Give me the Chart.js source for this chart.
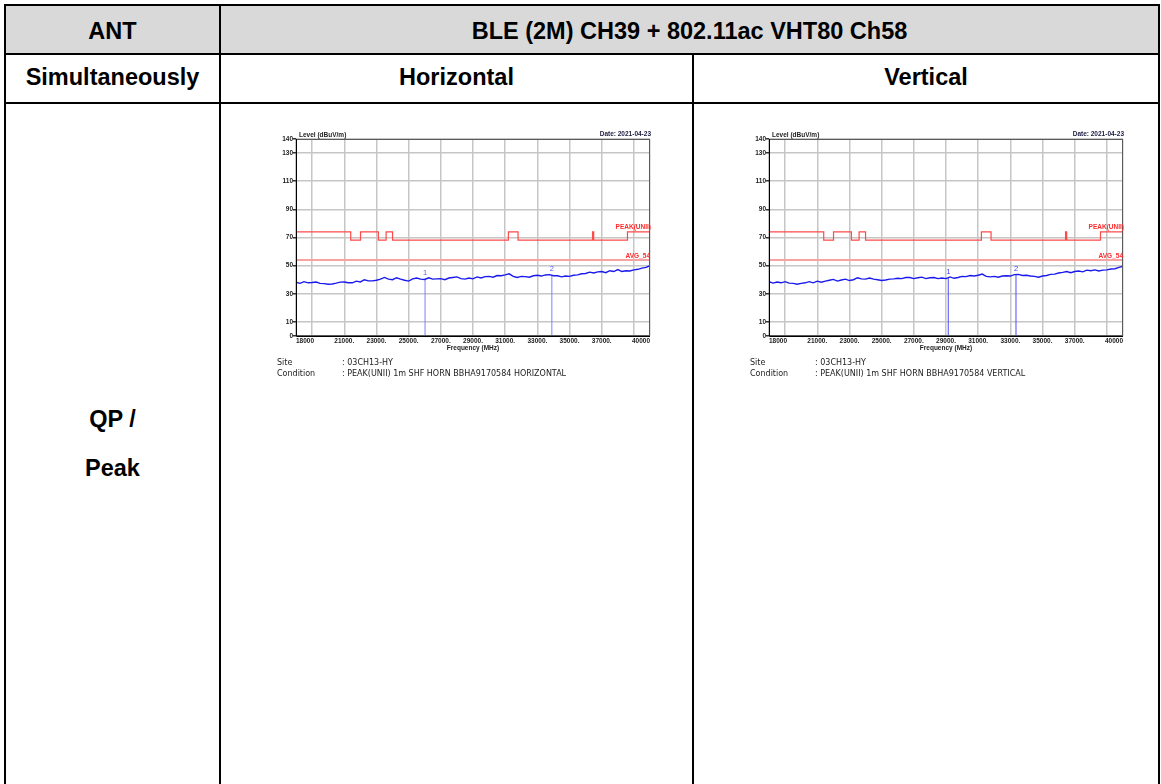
<!DOCTYPE html>
<html>
<head>
<meta charset="utf-8">
<script src="https://cdn.jsdelivr.net/npm/chart.js@4/dist/chart.umd.min.js"></script>
<style>
  html, body { margin:0; padding:0; background:#fff; }
  body { width:1161px; height:784px; overflow:hidden; position:relative; font-family:"Liberation Sans", Arial, sans-serif; }
  .ln { position:absolute; background:#000; }
  .hd { position:absolute; font-weight:bold; font-size:23.5px; line-height:23px; color:#000; text-align:center; white-space:nowrap; }
  .chart-box { position:absolute; width:400px; height:238px; }
  .info { position:absolute; font-family:"DejaVu Sans", Tahoma, sans-serif; font-size:8px; line-height:11px; color:#222; white-space:nowrap; }
  .info span { display:inline-block; width:65px; }
</style>
</head>
<body>
  <!-- table grid -->
  <div style="position:absolute;left:6px;top:6px;width:1152px;height:47px;background:#d9d9d9"></div>
  <div class="ln" style="left:4px;top:4px;width:1156px;height:2px"></div>
  <div class="ln" style="left:4px;top:53px;width:1156px;height:2px"></div>
  <div class="ln" style="left:4px;top:102px;width:1156px;height:2px"></div>
  <div class="ln" style="left:4px;top:4px;width:2px;height:790px"></div>
  <div class="ln" style="left:219px;top:4px;width:2px;height:790px"></div>
  <div class="ln" style="left:692px;top:53px;width:2px;height:740px"></div>
  <div class="ln" style="left:1158px;top:4px;width:2px;height:790px"></div>

  <div class="hd" style="left:6px;width:213px;top:20px">ANT</div>
  <div class="hd" style="left:221px;width:937px;top:20px">BLE (2M) CH39 + 802.11ac VHT80 Ch58</div>
  <div class="hd" style="left:6px;width:213px;top:66px">Simultaneously</div>
  <div class="hd" style="left:221px;width:471px;top:66px">Horizontal</div>
  <div class="hd" style="left:694px;width:464px;top:66px">Vertical</div>
  <div class="hd" style="left:6px;width:213px;top:408px">QP /</div>
  <div class="hd" style="left:6px;width:213px;top:457px">Peak</div>

  <div class="chart-box" style="left:262px;top:122px"><canvas id="chartH"></canvas></div>
  <div class="chart-box" style="left:735px;top:122px"><canvas id="chartV"></canvas></div>

  <div class="info" style="left:277px;top:357px">
    <div><span>Site</span>: 03CH13-HY</div>
    <div><span>Condition</span>: PEAK(UNII) 1m SHF HORN BBHA9170584 HORIZONTAL</div>
  </div>
  <div class="info" style="left:750px;top:357px">
    <div><span>Site</span>: 03CH13-HY</div>
    <div><span>Condition</span>: PEAK(UNII) 1m SHF HORN BBHA9170584 VERTICAL</div>
  </div>

<script>
// sweep points (MHz)
const freqMHz = [
  18000, 18250, 18500, 18750, 19000, 19250, 19500, 19750, 20000, 20250,
  20500, 20750, 21000, 21250, 21500, 21750, 22000, 22250, 22500, 22750,
  23000, 23250, 23500, 23750, 24000, 24250, 24500, 24750, 25000, 25250,
  25500, 25750, 26000, 26250, 26500, 26750, 27000, 27250, 27500, 27750,
  28000, 28250, 28500, 28750, 29000, 29250, 29500, 29750, 30000, 30250,
  30500, 30750, 31000, 31250, 31500, 31750, 32000, 32250, 32500, 32750,
  33000, 33250, 33500, 33750, 34000, 34250, 34500, 34750, 35000, 35250,
  35500, 35750, 36000, 36250, 36500, 36750, 37000, 37250, 37500, 37750,
  38000, 38250, 38500, 38750, 39000, 39250, 39500, 39750, 40000
];
// measured level, horizontal (dBuV/m)
const levelH = [
  38.2, 37.4, 38.6, 37.8, 38.0, 38.4, 37.4, 37.2, 36.8, 37.0,
  37.6, 38.3, 38.4, 37.8, 37.8, 39.0, 38.4, 40.0, 39.2, 39.2,
  39.6, 40.4, 41.6, 40.4, 40.0, 41.4, 40.4, 39.6, 39.0, 40.6,
  41.2, 40.4, 40.2, 41.4, 40.4, 40.6, 40.8, 40.0, 41.2, 41.6,
  42.0, 40.8, 40.4, 41.2, 40.6, 42.0, 41.2, 42.2, 42.4, 41.8,
  43.0, 42.8, 43.4, 44.2, 42.4, 41.6, 42.4, 42.2, 41.8, 42.8,
  43.2, 42.6, 43.4, 43.6, 42.8, 42.8, 42.0, 42.6, 42.4, 43.2,
  43.4, 44.2, 44.4, 45.4, 44.8, 45.6, 45.8, 45.0, 46.4, 45.8,
  47.2, 45.8, 46.4, 46.2, 47.0, 47.4, 48.2, 48.8, 50.0
];
// measured level, vertical (dBuV/m)
const levelV = [
  38.6, 37.6, 38.4, 37.8, 38.6, 37.6, 37.4, 36.8, 37.4, 37.8,
  38.6, 37.8, 39.0, 38.2, 39.0, 39.6, 40.2, 39.0, 39.8, 40.4,
  39.4, 40.0, 41.4, 40.6, 40.4, 41.2, 40.4, 40.0, 39.4, 39.8,
  40.4, 40.6, 41.0, 40.8, 41.6, 41.6, 40.8, 41.4, 41.8, 40.8,
  41.4, 41.6, 40.8, 41.2, 40.8, 42.0, 41.0, 41.6, 42.4, 42.2,
  43.0, 42.6, 43.2, 44.0, 42.4, 42.0, 42.4, 41.8, 42.6, 42.8,
  42.6, 43.6, 43.8, 43.0, 43.2, 42.6, 42.4, 41.8, 42.6, 43.0,
  43.8, 44.0, 44.8, 45.2, 45.8, 45.0, 45.8, 46.2, 45.6, 46.8,
  46.4, 47.0, 46.2, 46.8, 47.0, 47.6, 47.8, 48.8, 49.6
];
// PEAK(UNII) limit, step start points
const limitFreq  = [18000, 21400, 22010, 23120, 23600, 24000, 31200, 31800, 36430, 36500, 38600, 40000];
const limitLevel = [74, 68.2, 74, 68.2, 74, 68.2, 74, 68.2, 74, 68.2, 74, 74];
const avgLimit = 54;

// markers
const markerFreqH  = [26020, 33900];
const markerLevelH = [40.8, 43.4];
const markerFreqV  = [29140, 33350];
const markerLevelV = [41.4, 43.6];

// axes
const yTicks = [0, 10, 30, 50, 70, 90, 110, 130, 140];
const xTicks = [18000, 19000, 21000, 23000, 25000, 27000, 29000, 31000, 33000, 35000, 37000, 39000, 40000];
const xTickLabels = ['18000', '', '21000.', '23000.', '25000.', '27000.', '29000.', '31000.', '33000.', '35000.', '37000.', '', '40000'];

const FONT = '"Liberation Sans", Arial, sans-serif';
const pts = (xs, ys) => xs.map((x, i) => ({x, y: ys[i]}));

// texts inside the plot image
const overlay = {
  id: 'overlay',
  afterDatasetsDraw(c, args, o) {
    const {ctx, chartArea: a, scales: {x, y}} = c;
    ctx.save();
    ctx.strokeStyle = '#5a5a5a'; ctx.lineWidth = 1;
    ctx.strokeRect(a.left + 0.5, a.top + 0.5, a.right - a.left - 1, a.bottom - a.top - 1);
    ctx.strokeStyle = '#000';
    ctx.beginPath();
    ctx.moveTo(a.left + 0.5, a.top); ctx.lineTo(a.left + 0.5, a.bottom + 0.5); ctx.lineTo(a.right, a.bottom + 0.5);
    ctx.stroke();

    ctx.font = `bold 6.5px ${FONT}`;
    ctx.textBaseline = 'bottom';
    ctx.fillStyle = '#222';
    ctx.textAlign = 'left';
    ctx.fillText('Level (dBuV/m)', a.left + 3, a.top - 1);
    ctx.fillStyle = '#1a1a40';
    ctx.textAlign = 'right';
    ctx.fillText('Date: 2021-04-23', a.right + 1, a.top - 2);

    ctx.fillStyle = '#ff2a2a';
    ctx.fillText('PEAK(UNII)', a.right + 1, y.getPixelForValue(74) - 1);
    ctx.fillText('AVG_54', a.right, y.getPixelForValue(avgLimit) - 1);

    ctx.font = `7.5px ${FONT}`;
    ctx.fillStyle = o.color;
    ctx.textAlign = 'center';
    o.freqs.forEach((f, i) => {
      ctx.fillText(String(i + 1), x.getPixelForValue(f), y.getPixelForValue(o.levels[i]) - 2);
    });
    ctx.restore();
  }
};

function makeChart(id, level, mFreq, mLevel, mColor, labelColor) {
  const markerSets = mFreq.map((f, i) => ({
    data: [{x: f, y: 0}, {x: f, y: mLevel[i]}],
    borderColor: mColor, borderWidth: 1, pointRadius: 0
  }));
  return new Chart(document.getElementById(id), {
    type: 'line',
    data: {
      datasets: [
        {data: pts(freqMHz, level), borderColor: '#1a1aee', borderWidth: 1.4, pointRadius: 0, tension: 0},
        ...markerSets,
        {data: pts(limitFreq, limitLevel), borderColor: '#ff4a4a', borderWidth: 1.2, pointRadius: 0, stepped: true},
        {data: [{x: 18000, y: avgLimit}, {x: 40000, y: avgLimit}], borderColor: '#f7a3a3', borderWidth: 2, pointRadius: 0}
      ]
    },
    options: {
      responsive: true, maintainAspectRatio: false, animation: false,
      layout: {padding: {top: 17, right: 12, bottom: 0, left: 8}},
      plugins: {
        legend: {display: false}, tooltip: {enabled: false},
        overlay: {color: labelColor, freqs: mFreq, levels: mLevel}
      },
      scales: {
        x: {
          type: 'linear', min: 18000, max: 40000,
          afterBuildTicks: s => { s.ticks = xTicks.map(v => ({value: v})); },
          afterFit: s => { s.height = 24; },
          grid: {color: '#c6c6c6', lineWidth: 1.5, drawTicks: false},
          border: {display: false},
          ticks: {
            autoSkip: false, maxRotation: 0, align: 'inner', padding: 1, color: '#222',
            font: {family: FONT, size: 6.5, weight: 'bold'},
            callback: (v, i) => xTickLabels[i]
          },
          title: {display: true, text: 'Frequency (MHz)', color: '#222', padding: {top: 0, bottom: 8},
                  font: {family: FONT, size: 6.5, weight: 'bold'}}
        },
        y: {
          min: 0, max: 140,
          afterBuildTicks: s => { s.ticks = yTicks.map(v => ({value: v})); },
          afterFit: s => { s.width = 26; },
          grid: {color: '#c6c6c6', lineWidth: 1.5, tickColor: '#333', tickLength: 3},
          border: {display: false},
          ticks: {padding: 0, color: '#222', font: {family: FONT, size: 6.5, weight: 'bold'}}
        }
      }
    },
    plugins: [overlay]
  });
}

makeChart('chartH', levelH, markerFreqH, markerLevelH, '#7f7fff', '#5c5cff');
makeChart('chartV', levelV, markerFreqV, markerLevelV, '#4a4aff', '#3c3cff');
</script>
</body>
</html>
